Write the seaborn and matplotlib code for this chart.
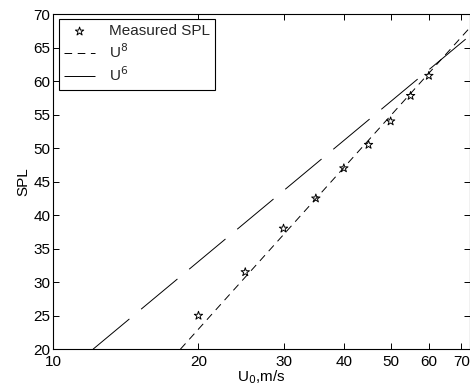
import matplotlib
matplotlib.use("Agg")
import matplotlib.pyplot as plt
import pandas as pd
import seaborn as sns

# Measured points
u_measured = [20, 25, 30, 35, 40, 45, 50, 55, 60]
spl_measured = [25.0, 31.5, 38.0, 42.5, 47.0, 50.5, 54.0, 57.8, 60.8]

# Fit lines (end points, straight on log x)
u_u8 = [18.35, 73.0]
spl_u8 = [20.0, 68.0]
u_u6 = [12.1, 73.0]
spl_u6 = [20.0, 66.8]

x_ticks = [10, 20, 30, 40, 50, 60, 70]
y_ticks = [20, 25, 30, 35, 40, 45, 50, 55, 60, 65, 70]

sns.set_theme(style="ticks")
plt.rcParams["font.family"] = ["Liberation Sans", "DejaVu Sans"]
plt.rcParams["lines.scale_dashes"] = False
plt.rcParams["xtick.direction"] = "in"
plt.rcParams["ytick.direction"] = "in"

fig = plt.figure(figsize=(4.7, 3.91), dpi=100)
ax = fig.add_axes([0.113, 0.107, 0.887, 0.857])

meas = pd.DataFrame({"u": u_measured, "spl": spl_measured})
u8 = pd.DataFrame({"u": u_u8, "spl": spl_u8})
u6 = pd.DataFrame({"u": u_u6, "spl": spl_u6})

sns.scatterplot(data=meas, x="u", y="spl", marker="*", s=40,
                facecolor="none", edgecolor="black", linewidth=0.7,
                label="Measured SPL", ax=ax, zorder=3)
sns.lineplot(data=u8, x="u", y="spl", color="black", linewidth=0.7,
             linestyle=(0, (5.5, 4.0)), label="U$^8$", ax=ax)
sns.lineplot(data=u6, x="u", y="spl", color="black", linewidth=0.7,
             linestyle=(0, (34, 11)), label="U$^6$", ax=ax)

ax.set_xscale("log")
ax.set_xlim(10, 73)
ax.set_ylim(20, 70)
ax.set_xticks(x_ticks)
ax.set_xticklabels([str(t) for t in x_ticks])
ax.minorticks_off()
ax.set_yticks(y_ticks)
ax.tick_params(axis="both", labelsize=11, length=4, width=0.7, color="black",
               top=True, right=True, pad=2, labelcolor="black")
ax.tick_params(axis="x", pad=4)
for s in ax.spines.values():
    s.set_linewidth(0.8)
    s.set_color("black")
    s.set_visible(True)

ax.set_xlabel("U$_0$,m/s", fontsize=11, labelpad=0, color="black")
ax.set_ylabel("SPL", fontsize=11, labelpad=2, color="black")

leg = ax.legend(loc="upper left", bbox_to_anchor=(0.014, 0.985), borderaxespad=0,
                fontsize=11, frameon=True, fancybox=False, edgecolor="black",
                framealpha=1, handlelength=2.0, handletextpad=0.9,
                labelspacing=0.28, borderpad=0.35)
leg.get_frame().set_linewidth(0.8)

fig.savefig("out.png", dpi=100)
